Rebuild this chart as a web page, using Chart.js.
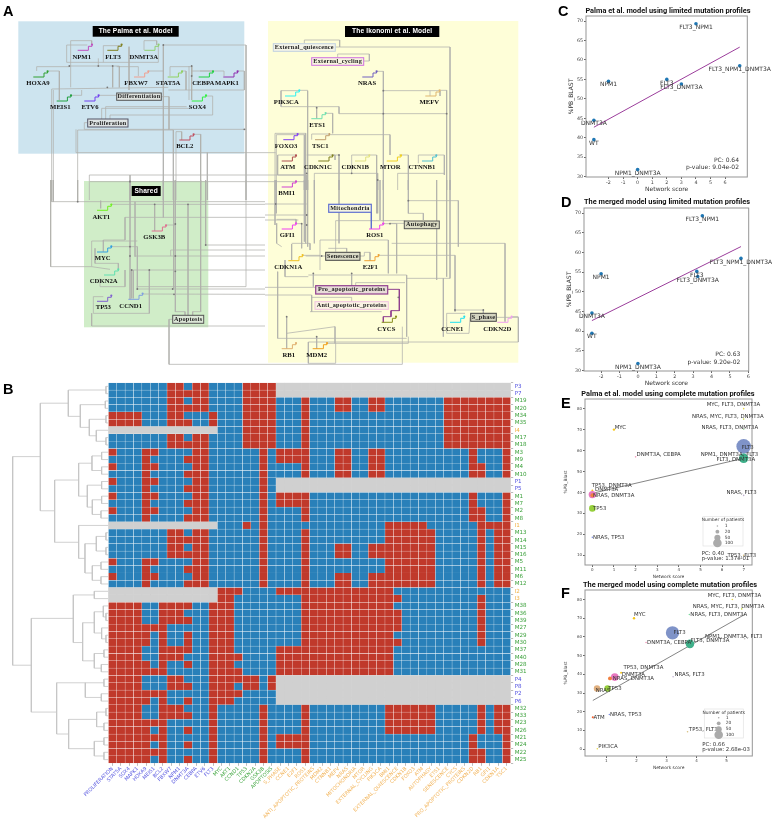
<!DOCTYPE html>
<html>
<head>
<meta charset="utf-8">
<title>Network models and mutation profiles</title>
<script src="https://cdn.jsdelivr.net/npm/chart.js@4"></script>
<style>
html, body { margin: 0; padding: 0; background: #fff; }
#page { position: relative; width: 776px; height: 828px; overflow: hidden; filter: blur(.3px); }
canvas { position: absolute; }
.letter { position: absolute; font: bold 14.5px/1 "Liberation Sans", sans-serif; color: #000; }
.title { position: absolute; width: 220px; text-align: center; font: bold 7.4px/10px Roboto, sans-serif; color: #111; white-space: nowrap; }
</style>
</head>
<body>
<div id="page">
  <div class="letter" style="left:3px;top:4px">A</div>
  <div class="letter" style="left:3px;top:382px">B</div>
  <div class="letter" style="left:558px;top:4px">C</div>
  <div class="letter" style="left:561px;top:195px">D</div>
  <div class="letter" style="left:561px;top:396px">E</div>
  <div class="letter" style="left:561px;top:586px">F</div>
  <div class="title" style="left:558px;top:6px">Palma et al. model using limited mutation profiles</div>
  <div class="title" style="left:557px;top:197px">The merged model using limited mutation profiles</div>
  <div class="title" style="left:558px;top:389px">Palma et al. model using complete mutation profiles</div>
  <div class="title" style="left:560px;top:580px">The merged model using complete mutation profiles</div>
</div>
<script>
// ---- panel B data
let rowLabels = ['P3','P7','M19','M20','M34','M35','I4','M17','M18','M3','M9','M4','M10','P1','P5','M1','M7','M2','M8','I1','M13','M14','M15','M16','M5','M11','M6','M12','I2','I3','M38','M36','M39','M27','M29','M30','M37','M40','M28','M31','P4','P8','P2','P6','M32','M33','M23','M26','M21','M24','M22','M25'];
let columnLabels = ['PROLIFERATION','STAT5A','SOX4','MAPK1','HOXA9','MEIS1','BCL2','FBXW7','NPM1','DNMT3A','CEBPA','ETV6','FLT3','MYC','AKT1','CCND1','TP53','CDKN2A','GSK3B','APOPTOSIS','S_PHASE','CCNE1','E2F1','ROS1','ANTI_APOPTOTIC_PROTEINS','MDM2','CTNNB1','MEFV','NRAS','MITOCHONDRIA','MTOR','EXTERNAL_CYCLING','PIK3CA','BMI1','EXTERNAL_QUIESCENCE','CDKN1B','FOXO3','ATM','AUTOPHAGY','ETS1','SENESCENCE','CYCS','PRO_APOPTOTIC_PROTEINS','CDKN2D','RB1','GFI1','CDKN1A','TSC1'];
// 0 inactive, 1 active, - not in the model (spaces only for reading)
let noRight = '----------------------------';
let noLeft = '-------------';
let states = [
  '0000000 11 0 11 0 000 1111' + noRight,
  '0000000 11 1 11 0 000 1111' + noRight,
  '0000000 11 0 11 0 000 1111 000 1 000 11 00 11 0000000 11111111',
  '0000000 11 1 11 0 000 1111 000 1 000 11 00 11 0000000 11111111',
  '1111 000 11 0 00 1 000 1111 000 1 000 00 00 00 0000000 11111111',
  '1111 000 11 1 00 1 000 1111 000 1 000 00 00 00 0000000 11111111',
  noLeft + '000 1111 000 1 000 00 00 00 0000000 11111111',
  '0000000 11 0 11 0 000 1111 000 1 000 00 00 00 0000000 11111111',
  '0000000 11 1 11 0 000 1111 000 1 000 00 00 00 0000000 11111111',
  '1 000 11 000 0 11 0 00000 1 0 111 1 000 11 00 11 0000000 000 1 000 1',
  '0 000 1 0 000 1 11 0 00000 1 0 111 1 000 11 00 11 0000000 000 1 000 1',
  '1 000 11 000 0 11 0 00000 1 0 000 1 000 11 00 11 0000000 000 11 00 1',
  '0 000 1 0 000 1 11 0 00000 1 0 000 1 000 11 00 11 0000000 000 11 00 1',
  '1 000 11 000 0 11 0 00000 1 0' + noRight,
  '0 000 1 0 000 1 11 0 00000 1 0' + noRight,
  '1 000 11 000 0 11 0 00000 1 0 111 1 000 00 00 00 0000000 000 1 000 1',
  '0 000 1 0 000 1 11 0 00000 1 0 111 1 000 00 00 00 0000000 000 1 000 1',
  '1 000 11 000 0 11 0 00000 1 0 000 1 000 00 00 00 0000000 000 11 00 1',
  '0 000 1 0 000 1 11 0 00000 1 0 000 1 000 00 00 00 0000000 000 11 00 1',
  noLeft + '000 1 0 1 0 0000000000000 11111 000000 1111',
  '0000000 11 0 11 0 00000 1 0 000 1 000000000 111111 00000 1 0 11',
  '0000000 11 1 11 0 00000 1 0 000 1 000000000 111111 00000 1 0 11',
  '0000000 11 0 11 0 00000 1 0 000 1 000 11 00 11111111 00000 1 0 11',
  '0000000 11 1 11 0 00000 1 0 000 1 000 11 00 11111111 00000 1 0 11',
  '1 000 11 000 0 11 0 00000 1 0 000 1 000000000 111111 00000 1 0 11',
  '0 000 1 0 000 1 11 0 00000 1 0 000 1 000000000 111111 00000 1 0 11',
  '1 000 11 000 0 11 0 00000 1 0 000 1 000 11 00 11111111 00000 1 0 11',
  '0 000 1 0 000 1 11 0 00000 1 0 000 1 000 11 00 11111111 00000 1 0 11',
  noLeft + '111 0000 11111111111111 00000000000000',
  noLeft + '11 00000 000 111111111111 000000000 1 000',
  '1111 00 1 11 1 00 1 11 00000 000 11111111111 0000000000 1 000',
  '1111 00 1 11 0 00 1 11 00000 000 111111111111 000000000 1 000',
  '1111 00 1 11 1 00 1 11 00000 000 111111111111 000000000 1 000',
  '111111 1 00 0 00 1 11 00000 000 111111111111 000000000 1 000',
  '11111 0 1 00 1 00 1 11 00000 000 11111111111 0000000000 1 000',
  '11111 0 1 00 1 00 1 11 00000 000 111111111111 000000000 1 000',
  '1111 00 1 11 1 00 1 11 00000 11111111111111 00000000000000',
  '1111 00 1 11 0 00 1 11 1 0000 11111111111111 00000000000000',
  '11111 0 1 00 1 00 1 11 00000 11111111111111 00000000000000',
  '111111 1 00 0 00 1 11 1 0000 11111111111111 00000000000000',
  '1111 00 0 11 0 00 1 11 1 11 0 1' + noRight,
  '1111 00 0 11 1 00 1 11 0 11 0 1' + noRight,
  '111111 1 00 0 00 1 11 1 0000' + noRight,
  '11111 0 1 00 1 00 1 11 00000' + noRight,
  '1111 00 1 11 0 00 1 00000 1 0 000 1 000000000 111111 00000 1 0 11',
  '1111 00 1 11 1 00 1 00000 1 0 000 1 000000000 111111 00000 1 0 11',
  '111111 1 00 0 00 1 00000 1 0 000 1 000000000 111111 00000 1 0 11',
  '11111 0 1 00 1 00 1 00000 1 0 000 1 000000000 111111 00000 1 0 11',
  '111111 1 00 0 00 1 00000 1 0 111 1 000 00 00 00 0000000 000 1 000 1',
  '11111 0 1 00 1 00 1 00000 1 0 111 1 000 00 00 00 0000000 000 1 000 1',
  '111111 1 00 0 00 1 00000 1 0 000 1 000 00 00 00 0000000 000 11 00 1',
  '11111 0 1 00 1 00 1 00000 1 0 000 1 000 00 00 00 0000000 000 11 00 1'
].map(s => s.replace(/ /g, ''));
// dendrogram merges: [height, rowTop, rowBottom, heightTopChild, heightBottomChild]
let merges = [
  [318,.5,1.5,325,325],[316,2.5,3.5,325,325],[318,4.5,5.5,325,325],[318,7.5,8.5,325,325],[289,6.5,8,325,318],[268,5,7.25,318,289],[241,3,6.1,316,268],[205,1,4.6,318,241],
  [305,9.5,10.5,325,325],[305,11.5,12.5,325,325],[276,10,12,305,305],[305,13.5,14.5,325,325],[305,15.5,16.5,325,325],[303,17.5,18.5,325,325],[277,16,18,305,303],[262,14,17,305,277],[236,11,15.5,276,262],
  [318,20.5,21.5,325,325],[318,22.5,23.5,325,325],[289,21,23,318,318],[303,24.5,25.5,325,325],[303,26.5,27.5,325,325],[277,25,27,303,303],[255,22,26,289,277],[236,19.5,24,325,255],[164,13.3,21.8,236,236],
  [121,2.8,17.5,205,164],
  [283,28.5,29.5,325,325],[318,31.5,32.5,325,325],[310,30.5,32,325,318],[318,34.5,35.5,325,325],[305,33.5,35,325,318],[283,31.3,34.2,310,305],[312,36.5,37.5,325,325],[304,38.5,39.5,325,325],[283,37,39,312,304],[248,32.8,38,283,283],[220,29,35.5,283,248],
  [312,40.5,41.5,325,325],[304,42.5,43.5,325,325],[256,41,43,312,304],[318,44.5,45.5,325,325],[312,46.5,47.5,325,325],[290,45,47,318,312],[312,48.5,49.5,325,325],[312,50.5,51.5,325,325],[283,49,51,312,312],[206,46,50,290,283],[170,41,48,256,206],[94,32.2,45,220,170],
  [38,10.1,38.6,121,94]
];

// ---- panels C-F data
let namesC = ['WT','DNMT3A','NPM1','NPM1_DNMT3A','FLT3','FLT3_DNMT3A','FLT3_NPM1','FLT3_NPM1_DNMT3A'];
let blastC = [39.5,44.5,54.5,31.8,55,53.8,69.3,58.5];
let scoreC = [-3,-3,-2,0,2,3,4,7];
let scoreD = [-2.5,-2.5,-2,0,3.2,3.25,3.5,5.6];
let blastD = [39.5,44.6,54.6,31.8,55.2,53.9,69.3,58.5];
let trendC = [[-3,42.7],[7,63.3]];
let trendD = [[-2.5,42.7],[5.6,61.5]];
let yTicksLimited = [30,35,40,45,50,55,60,65,70];
let xTicksC = [-2,-1,0,1,2,3,4,5,6];
let xTicksD = [-2,-1,0,1,2,3,4,5,6];

let namesE = ['MYC, FLT3, DNMT3A','NRAS, MYC, FLT3, DNMT3A','NRAS, FLT3, DNMT3A','MYC','FLT3','NPM1, DNMT3A, FLT3','FLT3, DNMT3A','DNMT3A, CEBPA','TP53, DNMT3A','DNMT3A','NRAS, DNMT3A','TP53','NRAS, TP53','NRAS, FLT3','TP53, FLT3'];
let scoreE = [7,7,7,1,7,7,7,2,0,0,0,0,0,7,7];
let blastE = [80,75,70.2,70,62,57.8,56.3,57,41,39,38.7,32.4,18.6,38.6,10];
let patientsE = [2,2,1,8,288,1,120,1,5,74,20,59,1,1,1];
let coloursE = ['#e8d84a','#c8dc50','#a0d8a0','#f5c518','#7f93c8','#c0c0c0','#3fb08a','#f098b8','#f5c518','#e878c0','#f08040','#96cf3c','#8090e0','#c0b0d0','#d8c080'];
let trendE = [[0,39.6],[7,56.3]];

let namesF = ['MYC, FLT3, DNMT3A','NRAS, MYC, FLT3, DNMT3A','NRAS, FLT3, DNMT3A','MYC','FLT3','NPM1, DNMT3A, FLT3','FLT3, DNMT3A','DNMT3A, CEBPA','TP53, DNMT3A','DNMT3A','NRAS, DNMT3A','NRAS','TP53','NRAS, FLT3','ATM','NRAS, TP53','TP53, FLT3','PIK3CA'];
let scoreF = [5.19,5.5,3.76,1.92,3.2,5.6,3.78,2.32,1.49,1.28,1.12,.69,1.04,3.22,.55,1.1,3.7,.7];
let blastF = [80,75,72,70,62.2,59,56.3,57,40.8,38.5,37.8,32.4,32.4,38.7,17,18.5,9.3,.2];
let patientsF = [2,2,1,8,240,1,100,1,5,80,20,55,55,1,6,1,1,1];
let coloursF = ['#e8d84a','#c8dc50','#80d8a0','#f5c518','#7f93c8','#c0c0c0','#3fb08a','#f098b8','#f5c518','#e878c0','#f08040','#e0b080','#96cf3c','#c0b0d0','#f06030','#8090e0','#d8c080','#e8d84a'];
let trendF = [[.55,26],[5.6,72]];
let legendPatients = [1,20,50,100];

// label offsets from each point, in pixels
let placeE = [[-37,-4],[-51.7,-2.7],[-42.3,-1.3],[.7,-1.7],[-2,1.3],[-43,-.7],[-27.3,1.7],[1,-2.7],[-.7,-5],[2.7,-5],[.7,0],[.7,0],[.7,.3],[-17.3,-2.7],[-16.3,0]];
let placeF = [[-24.7,-4],[-49,-2.3],[1,.3],[0,-4],[1,0],[-39.7,-2.3],[.7,-3.3],[1,0],[2.3,-5],[7,-3],[2.7,.3],[-1.3,2],[.7,0],[1.3,-2.3],[.7,0],[.7,0],[1.3,-1.7],[1,-1.7]];

// ---- panel A data (positions)
let regions = [
  ['#cde4ef',18.3,21.3,244.3,153.7],
  ['#d0edc8',84,181,208.3,327.3],
  ['#fefed8',268,21,518.3,362.7]
];
let headers = [
  ['The Palma et al. Model',92.7,26,178.7,36.7],
  ['The Ikonomi et al. Model',345,26,439.3,37],
  ['Shared',131.7,186,160.7,196]
];
// gene, label x, label y, bar x, bar y, colour
let genes = [
  ['NPM1',81.7,57,77.7,50.3,'#c050c0'],['FLT3',113,57,107.3,50.3,'#808020'],['DNMT3A',143.7,57,144.3,50.3,'#90d070'],
  ['HOXA9',38,83.3,33.3,77,'#30a030'],['FBXW7',136,83.3,134,77,'#f0a090'],['STAT5A',168,83.3,167.7,77,'#90d060'],['CEBPA',203.3,83.3,198.7,77,'#20d040'],['MAPK1',227,83.3,223.3,77,'#9030b0'],
  ['MEIS1',60.3,107.7,56.7,101,'#20a040'],['ETV6',90,107.7,84.3,101,'#7040f0'],['SOX4',197.3,107.7,191.7,101,'#30f040'],['BCL2',184.7,146.7,179.3,140,'#c05060'],
  ['AKT1',101.3,217,97,210.3,'#70f020'],['GSK3B',154.3,237.7,151.7,231,'#e07090'],['MYC',102.7,258.7,97,252,'#30a0e0'],['CDKN2A',103.7,281.7,104,275,'#60e0b0'],['TP53',103.3,307.7,97,301.3,'#8060d0'],['CCND1',130.7,306.3,128.3,299.3,'#80a0e0'],
  ['NRAS',367,83.3,362.3,77,'#7060c0'],['PIK3CA',286.3,102.7,285,96,'#30f0f0'],['MEFV',429.3,102.7,425.3,96,'#e0b870'],['ETS1',317.3,125.3,311.3,118.7,'#70e0b0'],['FOXO3',286,146.3,283.3,139.7,'#8040f0'],['TSC1',320.3,146.3,315,139.7,'#c0a070'],
  ['ATM',287.7,167.3,281.7,161,'#b05050'],['CDKN1C',318,167.3,318.3,161,'#808020'],['CDKN1B',355.3,167.3,355,161,'#e0e080'],['MTOR',390.3,167.3,386.7,161,'#f0d020'],['CTNNB1',422,167.3,422,161,'#50c0d0'],
  ['BMI1',286.7,193.7,281.7,187,'#d040d0'],['ROS1',374.7,235.7,369,229,'#f040f0'],['GFI1',287.3,235.7,281.7,229,'#f040f0'],['CDKN1A',288.3,267.7,288.3,260.7,'#f0c020'],['E2F1',370.3,267.7,364.3,260.7,'#f0a030'],
  ['CYCS',386.3,329,381.7,322.3,'#8a9020'],['CCNE1',452.3,329,450,322.3,'#20e0f0'],['CDKN2D',497.3,329,497.3,322.3,'#f0a0f0'],['RB1',288.7,355.3,281.7,348.7,'#e0b070'],['MDM2',316.7,355.3,312.7,348.7,'#f0a020']
];
// box, left, top, right, bottom, border, fill, border width
let boxes = [
  ['Differentiation',116.7,93,161.3,100.3,'#555','#dfe4e0',1],
  ['Proliferation',87.7,119,128,127,'#556','#dfe4e4',1],
  ['Apoptosis',172.7,315.3,203.7,323.3,'#555','#dde8d8',1],
  ['External_quiescence',273.3,43.7,335.3,51.3,'#c0d0e0','#f4f4e8',1],
  ['External_cycling',311.7,57.7,363.7,65.3,'#d070e0','#f8f4e0',1],
  ['Mitochondria',328.7,204.3,371.3,212.3,'#6070d0','#f4f4e0',1.2],
  ['Autophagy',404.3,221,439.3,228.7,'#555','#dcdcc4',1],
  ['Senescence',325.7,252.3,360,260.3,'#444','#dcdcc8',1],
  ['Pro_apoptotic_proteins',315.7,285.7,387.7,294,'#90408f','#e8dcd8',1.2],
  ['Anti_apoptotic_proteins',315,301.7,388.3,309.3,'#f0c0e0','#fbf4e4',1],
  ['S_phase',470.7,313.3,496.3,321.3,'#444','#d4d4c0',1]
];
let edgesTopLeft = [
  [212,262,212,122,275,122,275,135],[200,187,475,187,475,135],[200,187,200,135,262,135],[310,187,310,137,365,137],
  [208,198,358,198,358,262],[338,198,338,262],[295,198,295,175],[387,140,387,270],[432,150,432,122,470,122,470,135],
  [490,135,738,135,738,600],[490,135,490,600],[110,213,110,200,208,200],[146,213,178,213,178,300],[415,228,415,200,350,200],
  [446,213,490,213],[510,228,510,200,575,200,575,228],[546,213,558,213,558,270],[575,213,640,213],[672,228,672,213,600,213],
  [575,198,575,300],[714,213,733,213,733,270,505,270],[155,600,155,267,505,262],[160,600,160,270],[210,286,245,286,245,270],
  [297,286,350,286],[484,290,507,290,507,388,253,388,253,368,263,368],[305,357,305,325,567,325],[317,357,317,320,560,320],
  [330,357,330,345,638,345,638,288,620,288],[567,300,567,198],[233,600,233,390,520,390,520,600],[528,600,528,395,545,395,545,420],
  [581,403,602,403,602,600],[228,458,795,458],[228,458,228,388],[622,458,622,600],[268,600,268,525,795,525],[390,525,390,600],[270,545,795,545],[738,388,505,388]
];
let edgesBottomLeft = [
  [155,0,155,65,795,65],[160,0,160,65],[233,0,233,65],[152,0,152,260,275,260,275,183],[302,62,302,85],[333,73,795,73],[464,73,464,153],[564,73,564,405],
  [405,65,405,230],[390,0,390,358],[375,112,375,180,310,180,310,215],[375,112,795,112],[490,0,490,112],[497,135,528,135],[521,0,521,325],[526,0,526,395,555,395,555,405],
  [602,0,602,395,578,395,578,405],[617,0,617,195,795,195],[512,228,512,210,795,210],[405,228,795,228],[335,200,412,200,412,330],[275,183,412,183],[275,260,330,268],
  [285,205,285,250,355,250,355,268],[395,270,795,270],[395,270,395,355],[400,270,400,355],[448,270,448,400,280,400,280,350,310,350],[275,400,275,438,795,438],
  [375,270,375,320,300,320,300,295],[428,342,795,343],[412,327,795,327],[410,320,738,320,738,0],[518,418,507,418,507,553,795,553]
];
let edgesTopRight = [
  [118,130,118,120,224,120,224,141,210,141],[224,141,555,141,555,570],[218,172,218,162,313,162,313,183,296,183],[335,214,355,214,355,570],
  [355,272,525,272,525,288],[495,288,495,272],[526,271,545,271,545,570],[103,272,48,272,48,320,222,320,222,341,545,341],[128,272,128,570],[103,271,128,271],
  [155,323,155,355],[182,340,203,340,203,400],[30,570,30,400,122,400,122,570],[34,570,34,404,118,404,118,570],[140,419,140,402,190,402],[193,404,375,404,375,465],
  [38,465,38,525,125,525,125,570],[38,465,94,465],[125,465,210,465,210,480],[205,465,222,465,222,570],[260,520,260,465,335,465,335,570],[402,465,430,465,430,570],
  [460,490,460,465,538,465,538,525],[398,570,398,520,538,520],[148,570,148,520,338,520,338,570],[0,458,32,458],[0,525,118,525],[0,545,125,545]
];
let edgesBottomRight = [
  [30,0,30,135],[34,0,34,100],[118,0,118,185],[122,0,122,190],[128,0,128,200],[222,0,222,190],[338,0,338,100],[148,0,148,190],[0,72,125,72],
  [335,30,335,100],[345,0,345,120],[355,0,355,125],[430,0,430,62,580,62,580,200],[430,62,430,100,475,100,475,120],[355,131,395,131,395,280],
  [35,130,35,190,50,200],[35,118,93,118,93,131,110,131,110,205],[212,215,212,122,420,122],[418,130,375,130],[80,190,135,190,135,210],[165,270,165,180,370,180,370,280],
  [80,192,80,240],[60,240,60,290,130,290],[0,120,100,120],[0,105,125,105],[190,205,245,205,245,215],[122,228,182,228],[285,228,298,228,298,217,315,217,315,242],
  [341,226,570,226,570,395],[380,190,720,190,720,425],[114,226,165,226],[38,275,38,475,425,475],[130,285,425,285,425,470],[260,280,260,318],[0,345,140,345,140,395],[145,280,145,320],[0,322,152,322],
  [272,318,272,308,420,308],[260,365,260,352,140,352],[135,395,350,395],[545,0,545,290],[555,0,555,295,425,295],[535,295,535,470],[515,0,515,300],
  [545,425,545,400,600,400],[570,390,655,390,655,400],[615,412,612,460,545,460,545,425],[694,412,760,412,760,486,130,486,130,550,212,550,212,490],[741,410,760,410],
  [0,553,412,553,412,440],[65,410,65,506],[65,460,210,440,210,490],[155,470,155,506],[187,490,430,490,430,470]
];
let dotsTopLeft = [[208,198],[295,198],[338,198],[490,135],[733,388],[575,198],[575,228],[322,262],[390,545]];
let dotsBottomLeft = [[233,65],[464,73],[564,73],[390,200],[390,228],[526,132],[526,228],[526,274],[617,195],[395,270],[448,270],[412,327],[518,327],[522,343]];
let dotsTopRight = [[355,272],[355,341],[545,341],[155,323],[222,465],[260,520],[125,520],[338,540]];
let dotsBottomRight = [[32,72],[125,105],[125,135],[430,62],[355,131],[375,131],[110,131],[170,228],[570,390],[655,390],[65,410],[145,280],[260,280],[400,352],[155,470]];

// ---- helpers
let page = document.getElementById('page');
function addCanvas(left, top, width, height) {
  let c = document.createElement('canvas');
  c.width = width;
  c.height = height;
  c.style.left = left + 'px';
  c.style.top = top + 'px';
  c.style.width = width + 'px';
  c.style.height = height + 'px';
  page.appendChild(c);
  return c;
}
function toXY(flat, ox, oy) {
  let pts = [];
  for (let i = 0; i < flat.length; i += 2) pts.push({x: ox + flat[i] / 3, y: oy + flat[i + 1] / 3});
  return pts;
}
function lineSet(points, color, width) {
  return {type: 'scatter', data: points, showLine: true, borderColor: color, borderWidth: width, pointRadius: 0, fill: false, tension: 0, order: 2};
}
// scales ask for room for their outer tick labels, the plot box here is fixed
function noScalePadding(s) {
  s.paddingLeft = s.paddingRight = s.paddingTop = s.paddingBottom = 0;
}

// ---- panel A: network on a plain x/y chart
let edgeSets = [];
[[edgesTopLeft,0,0],[edgesBottomLeft,0,180],[edgesTopRight,265,0],[edgesBottomRight,265,180]].forEach(g => {
  g[0].forEach(e => edgeSets.push(lineSet(toXY(e, g[1], g[2]), '#b0b0ac', .75)));
});
let dotPoints = [].concat(
  dotsTopLeft.map(d => ({x: d[0] / 3, y: d[1] / 3})),
  dotsBottomLeft.map(d => ({x: d[0] / 3, y: 180 + d[1] / 3})),
  dotsTopRight.map(d => ({x: 265 + d[0] / 3, y: d[1] / 3})),
  dotsBottomRight.map(d => ({x: 265 + d[0] / 3, y: 180 + d[1] / 3}))
);
let geneSets = genes.map(g => ({
  type: 'scatter',
  data: [{x: g[3], y: g[4]}, {x: g[3] + 10.7, y: g[4]}, {x: g[3] + 10.7, y: g[4] - 4}, {x: g[3] + 14.3, y: g[4] - 4}, {x: g[3] + 14.3, y: g[4] - 5.7}],
  showLine: true, borderColor: g[5], borderWidth: 1, backgroundColor: g[5], pointBorderWidth: 0, tension: 0, order: 0,
  pointRadius: [0, 0, 0, 0, 1.1]
}));
let dotSet = {type: 'scatter', data: dotPoints, backgroundColor: '#777', pointRadius: .9, pointBorderWidth: 0, order: 1};
// purple link from Pro_apoptotic_proteins to CYCS
let proLink = lineSet(toXY([368,328,403,328,403,392,378,392,378,410,355,410,355,427], 265, 180), '#90408f', 1);
proLink.order = 1;
let mitoLink = lineSet(toXY([319,97,319,147], 265, 180), '#6070d0', 1);
mitoLink.order = 1;

let networkPlugin = {
  id: 'network',
  beforeDatasetsDraw(chart) {
    let ctx = chart.ctx, X = chart.scales.x, Y = chart.scales.y;
    regions.forEach(r => {
      ctx.fillStyle = r[0];
      ctx.fillRect(X.getPixelForValue(r[1]), Y.getPixelForValue(r[2]), r[3] - r[1], r[4] - r[2]);
    });
  },
  afterDatasetsDraw(chart) {
    let ctx = chart.ctx, X = chart.scales.x, Y = chart.scales.y;
    ctx.save();
    ctx.textAlign = 'center';
    ctx.textBaseline = 'middle';
    headers.forEach(h => {
      ctx.fillStyle = '#000';
      ctx.fillRect(X.getPixelForValue(h[1]), Y.getPixelForValue(h[2]), h[3] - h[1], h[4] - h[2]);
      ctx.fillStyle = '#fff';
      ctx.font = 'bold 6.6px "Liberation Sans", sans-serif';
      ctx.letterSpacing = '0.15px';
      ctx.fillText(h[0], X.getPixelForValue((h[1] + h[3]) / 2), Y.getPixelForValue((h[2] + h[4]) / 2));
    });
    boxes.forEach(b => {
      ctx.fillStyle = b[6];
      ctx.strokeStyle = b[5];
      ctx.lineWidth = b[7];
      let l = X.getPixelForValue(b[1]), t = Y.getPixelForValue(b[2]);
      ctx.fillRect(l, t, b[3] - b[1], b[4] - b[2]);
      ctx.strokeRect(l, t, b[3] - b[1], b[4] - b[2]);
      ctx.fillStyle = '#222';
      ctx.font = 'bold 6.2px "Liberation Serif", serif';
      ctx.letterSpacing = '0.25px';
      ctx.fillText(b[0], X.getPixelForValue((b[1] + b[3]) / 2), Y.getPixelForValue((b[2] + b[4]) / 2));
    });
    ctx.letterSpacing = '0px';
    ctx.fillStyle = '#111';
    ctx.font = 'bold 6.7px "Liberation Serif", serif';
    genes.forEach(g => ctx.fillText(g[0], X.getPixelForValue(g[1]), Y.getPixelForValue(g[2])));
    ctx.restore();
  }
};
new Chart(addCanvas(0, 0, 540, 380), {
  data: {datasets: geneSets.concat([dotSet, proLink, mitoLink], edgeSets)},
  plugins: [networkPlugin],
  options: {
    responsive: false, animation: false,
    layout: {padding: 0, autoPadding: false},
    plugins: {legend: {display: false}, tooltip: {enabled: false}},
    scales: {
      x: {type: 'linear', min: 0, max: 540, display: false},
      y: {type: 'linear', min: 0, max: 380, reverse: true, display: false}
    }
  }
});

// ---- panel B: dendrogram
let dendroSets = merges.map(m => lineSet([{x: m[3], y: m[1]}, {x: m[0], y: m[1]}, {x: m[0], y: m[2]}, {x: m[4], y: m[2]}], '#c4c4c4', .8));
new Chart(addCanvas(0, 382, 109, 382), {
  data: {datasets: dendroSets},
  options: {
    responsive: false, animation: false,
    layout: {padding: {left: 0, right: .7, top: .7, bottom: .7}, autoPadding: false},
    plugins: {legend: {display: false}, tooltip: {enabled: false}},
    scales: {
      x: {type: 'linear', min: 0, max: 325, display: false},
      y: {type: 'linear', min: 0, max: 52, reverse: true, display: false}
    }
  }
});

// ---- panel B: heatmap as stacked horizontal bars, one dataset per column
const cellColours = {'0': '#2980b9', '1': '#c0392b', '-': '#d0d0d0'};
const cellBorders = {'0': 'rgba(255,255,255,.62)', '1': 'rgba(255,255,255,.62)', '-': '#d0d0d0'};
let heatSets = columnLabels.map((name, c) => ({
  label: name,
  data: rowLabels.map(() => 1),
  backgroundColor: states.map(s => cellColours[s[c]]),
  borderColor: states.map(s => cellBorders[s[c]]),
  borderWidth: .45,
  borderSkipped: false,
  barPercentage: 1,
  categoryPercentage: 1
}));
function rowColour(name) {
  if (name[0] == 'P') return '#5050e0';
  if (name[0] == 'M') return '#3aa03a';
  return '#f0b040';
}
function columnColour(i) {
  if (i < 13) return '#5a5ae0';
  if (i < 20) return '#45a845';
  return '#f2b45a';
}
new Chart(addCanvas(0, 382, 540, 446), {
  type: 'bar',
  data: {labels: rowLabels, datasets: heatSets},
  options: {
    indexAxis: 'y',
    responsive: false, animation: false,
    layout: {padding: {left: 108.3, top: .7, right: 0, bottom: 0}, autoPadding: false},
    plugins: {legend: {display: false}, tooltip: {enabled: false}},
    scales: {
      x: {
        type: 'linear', stacked: true, min: 0, max: 48,
        afterBuildTicks: axis => { axis.ticks = columnLabels.map((n, i) => ({value: i + .5})); },
        afterFit: s => { s.height = 64.7; noScalePadding(s); },
        ticks: {
          autoSkip: false, maxRotation: 45, minRotation: 45, padding: 0,
          font: {size: 5, family: '"DejaVu Sans", sans-serif'},
          color: ctx => columnColour(ctx.index),
          callback: v => columnLabels[Math.floor(v)]
        },
        grid: {drawOnChartArea: false, tickLength: 2.5, tickColor: '#bbb'},
        border: {display: false}
      },
      y: {
        position: 'right', stacked: true,
        afterFit: s => { s.width = 29.3; noScalePadding(s); },
        ticks: {
          autoSkip: false, padding: 1.5,
          font: {size: 5.6, family: '"DejaVu Sans", sans-serif'},
          color: ctx => rowColour(rowLabels[ctx.index])
        },
        grid: {drawOnChartArea: false, tickLength: 2.5, tickColor: '#bbb'},
        border: {display: false}
      }
    }
  }
});

// ---- panels C-F: scatter plots
function patientRadius(n) {
  return Math.max(.8, .43 * Math.sqrt(n));
}
function scatterPanel(p) {
  let left = p.l - p.axisW, top = p.t - 1;
  let width = Math.round(776 - left), height = Math.round(p.b + p.axisH - top);
  let pts = p.names.map((n, i) => ({x: p.score[i], y: p.blast[i]}));
  let panelPlugin = {
    id: 'panelText',
    afterDatasetsDraw(chart) {
      let ctx = chart.ctx, X = chart.scales.x, Y = chart.scales.y, area = chart.chartArea;
      ctx.save();
      ctx.strokeStyle = '#959595';
      ctx.lineWidth = 1;
      ctx.strokeRect(area.left, area.top, area.right - area.left, area.bottom - area.top);
      ctx.fillStyle = '#333';
      ctx.font = p.labelFont;
      ctx.textBaseline = 'middle';
      p.names.forEach((n, i) => {
        let px = X.getPixelForValue(p.score[i]), py = Y.getPixelForValue(p.blast[i]);
        if (p.place) {
          ctx.textAlign = 'left';
          ctx.fillText(n, px + p.place[i][0], py + p.place[i][1]);
        } else {
          ctx.textAlign = 'center';
          ctx.fillText(n, px, py + 3.6);
        }
      });
      ctx.font = p.noteFont;
      ctx.textAlign = p.noteAlign;
      ctx.fillText(p.notes[0], p.noteX - left, p.noteY[0] - top);
      ctx.fillText(p.notes[1], p.noteX - left, p.noteY[1] - top);
      if (p.legend) {
        let g = p.legend;
        ctx.strokeStyle = '#e2e2e2';
        ctx.lineWidth = .7;
        ctx.strokeRect(g.l - left, g.t - top, g.w, g.h);
        ctx.font = '4.4px "DejaVu Sans", sans-serif';
        ctx.textAlign = 'center';
        ctx.fillText('Number of patients', g.l - left + g.w / 2, g.t - top + 3.4);
        ctx.textAlign = 'left';
        legendPatients.forEach((n, i) => {
          ctx.beginPath();
          ctx.arc(g.dotX - left, g.rows[i] - top, patientRadius(n), 0, Math.PI * 2);
          ctx.fillStyle = '#aaa';
          ctx.fill();
          ctx.fillStyle = '#333';
          ctx.fillText(String(n), g.textX - left, g.rows[i] - top);
        });
      }
      ctx.restore();
    }
  };
  new Chart(addCanvas(left, top, width, height), {
    data: {datasets: [
      {type: 'scatter', data: pts, backgroundColor: p.colours || '#1f77b4', pointRadius: p.radius, pointBorderWidth: 0, order: 1},
      lineSet(p.trend.map(t => ({x: t[0], y: t[1]})), p.trendColour, p.trendWidth)
    ]},
    plugins: [panelPlugin],
    options: {
      responsive: false, animation: false,
      layout: {padding: {left: 0, top: 1, right: width - (p.r - left), bottom: 0}, autoPadding: false},
      plugins: {legend: {display: false}, tooltip: {enabled: false}},
      scales: {
        x: {
          type: 'linear', min: p.xMin, max: p.xMax,
          afterBuildTicks: axis => { axis.ticks = p.xTicks.map(v => ({value: v})); },
          afterFit: s => { s.height = p.axisH; noScalePadding(s); },
          ticks: {font: {size: p.tickSize, family: '"DejaVu Sans", sans-serif'}, color: '#444', padding: 1, maxRotation: 0},
          grid: {drawOnChartArea: false, tickLength: 2, tickColor: '#666'},
          border: {display: false},
          title: {display: true, text: 'Network score', font: {size: p.titleSize, family: '"DejaVu Sans", sans-serif'}, color: '#333', padding: 0}
        },
        y: {
          type: 'linear', min: p.yMin, max: p.yMax,
          afterBuildTicks: axis => { axis.ticks = p.yTicks.map(v => ({value: v})); },
          afterFit: s => { s.width = p.axisW; noScalePadding(s); },
          ticks: {font: {size: p.tickSize, family: '"DejaVu Sans", sans-serif'}, color: '#444', padding: 1},
          grid: {drawOnChartArea: false, tickLength: 2, tickColor: '#666'},
          border: {display: false},
          title: {display: true, text: p.yTitle, font: {size: p.titleSize, family: '"DejaVu Sans", sans-serif'}, color: '#333', padding: 0}
        }
      }
    }
  });
}
const limitedStyle = {axisW: 18, axisH: 16, tickSize: 4.8, titleSize: 6, yTitle: '%PB_BLAST', radius: 1.8, trendColour: '#9b3d9b', trendWidth: 1,
  labelFont: '6px "DejaVu Sans", sans-serif', noteFont: '6px "DejaVu Sans", sans-serif', noteAlign: 'right', yTicks: yTicksLimited, names: namesC};
scatterPanel(Object.assign({}, limitedStyle, {
  l: 586, t: 16, r: 747.3, b: 176.7, xMin: -3.54, xMax: 7.52, yMin: 29.9, yMax: 71.3, xTicks: xTicksC,
  score: scoreC, blast: blastC, trend: trendC, notes: ['PC: 0.64', 'p-value: 9.04e-02'], noteX: 739, noteY: [160.3, 167.3]
}));
scatterPanel(Object.assign({}, limitedStyle, {
  l: 584.3, t: 207.7, r: 749, b: 371, xMin: -2.93, xMax: 6.02, yMin: 29.9, yMax: 71.3, xTicks: xTicksD,
  score: scoreD, blast: blastD, trend: trendD, notes: ['PC: 0.63', 'p-value: 9.20e-02'], noteX: 740.7, noteY: [354.3, 361.7]
}));
const completeStyle = {axisW: 22, axisH: 14, tickSize: 4, titleSize: 4.4, yTitle: '%PB_Blast', trendColour: '#777', trendWidth: .9,
  labelFont: '5.4px "DejaVu Sans", sans-serif', noteFont: '5.4px "DejaVu Sans", sans-serif', noteAlign: 'left'};
scatterPanel(Object.assign({}, completeStyle, {
  l: 585.3, t: 399, r: 752.3, b: 565, xMin: -.34, xMax: 7.385, yMin: 5.4, yMax: 84.6, xTicks: [0,1,2,3,4,5,6,7], yTicks: [10,20,30,40,50,60,70,80],
  names: namesE, score: scoreE, blast: blastE, radius: patientsE.map(patientRadius), colours: coloursE, place: placeE, trend: trendE,
  notes: ['PC: 0.40', 'p-value: 1.37e-01'], noteX: 702, noteY: [553.3, 558.3],
  legend: {l: 703.3, t: 516.7, w: 40, h: 29.3, dotX: 717.7, textX: 725, rows: [526, 531.7, 537.7, 543]}
}));
scatterPanel(Object.assign({}, completeStyle, {
  l: 585, t: 590, r: 752.3, b: 756.3, xMin: .29, xMax: 5.853, yMin: -3.7, yMax: 85.1, xTicks: [1,2,3,4,5], yTicks: [0,10,20,30,40,50,60,70,80],
  names: namesF, score: scoreF, blast: blastF, radius: patientsF.map(patientRadius), colours: coloursF, place: placeF, trend: trendF,
  notes: ['PC: 0.66', 'p-value: 2.68e-03'], noteX: 702.3, noteY: [745, 749.7],
  legend: {l: 704.3, t: 709, w: 39, h: 29, dotX: 718.7, textX: 725.7, rows: [717.7, 723.3, 729.3, 734.7]}
}));
</script>
</body>
</html>
